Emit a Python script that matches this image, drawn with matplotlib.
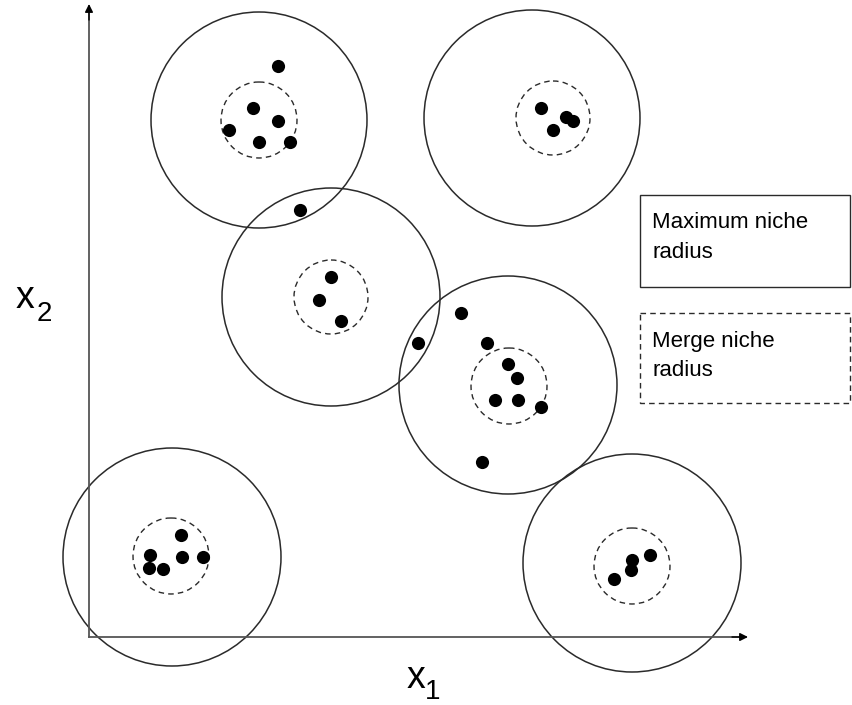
import matplotlib.pyplot as plt
from matplotlib.patches import Circle, Rectangle

plt.rcParams['font.family'] = ['Liberation Sans', 'DejaVu Sans']

# niche centres (outer, solid) and their radii, in picture units
niche_x = [259, 532, 331, 508, 172, 632]
niche_y = [120, 118, 297, 385, 557, 563]
niche_r = [108, 108, 109, 109, 109, 109]

# merge niche centres (inner, dashed)
merge_x = [259, 553, 331, 509, 171, 632]
merge_y = [120, 118, 297, 386, 556, 566]
merge_r = [38, 37, 37, 38, 38, 38]

# individuals
pts_x = [278, 253, 278, 229, 259, 290, 300,
         541, 553, 566, 573,
         331, 319, 341,
         461, 418, 487, 508, 517, 495, 518, 541, 482,
         181, 150, 182, 203, 149, 163,
         650, 632, 631, 614]
pts_y = [66, 108, 121, 130, 142, 142, 210,
         108, 130, 117, 121,
         277, 300, 321,
         313, 343, 343, 364, 378, 400, 400, 407, 462,
         535, 555, 557, 557, 568, 569,
         555, 560, 570, 579]

W, H = 852, 705
fig = plt.figure(figsize=(W / 100, H / 100), dpi=100)
ax = fig.add_axes([0, 0, 1, 1])
ax.set_xlim(0, W)
ax.set_ylim(H, 0)
ax.axis('off')

line_col = '#2a2a2a'
axis_col = '#555555'

# axes: grey lines, black arrow heads
origin = (89, 637)
ax.plot([89, 89], [637, 12], color=axis_col, lw=1.3)
ax.plot([89, 740], [637, 637], color=axis_col, lw=1.3)
ax.annotate('', xy=(89, 4), xytext=(89, 20),
            arrowprops=dict(arrowstyle='-|>', color='black', lw=1.0,
                            mutation_scale=12, shrinkA=0, shrinkB=0))
ax.annotate('', xy=(748, 637), xytext=(732, 637),
            arrowprops=dict(arrowstyle='-|>', color='black', lw=1.0,
                            mutation_scale=12, shrinkA=0, shrinkB=0))

for cx, cy, r in zip(niche_x, niche_y, niche_r):
    ax.add_patch(Circle((cx, cy), r, fill=False, ec=line_col, lw=1.1))
for cx, cy, r in zip(merge_x, merge_y, merge_r):
    ax.add_patch(Circle((cx, cy), r, fill=False, ec=line_col, lw=1.0,
                        ls=(0, (4, 3))))

ax.scatter(pts_x, pts_y, s=90, color='black', zorder=5, linewidths=0)

# legend boxes
ax.add_patch(Rectangle((640, 195), 210, 92, fill=False, ec=line_col, lw=1.0))
ax.add_patch(Rectangle((640, 313), 210, 90, fill=False, ec=line_col, lw=1.0,
                       ls=(0, (4, 3))))
ax.text(652, 223, 'Maximum niche', fontsize=16, va='center', ha='left')
ax.text(652, 253, 'radius', fontsize=16, va='center', ha='left')
ax.text(652, 342, 'Merge niche', fontsize=16, va='center', ha='left')
ax.text(652, 371, 'radius', fontsize=16, va='center', ha='left')

# axis labels
ax.text(25, 298, 'x', fontsize=27, ha='center', va='center')
ax.text(44, 314, '2', fontsize=20, ha='center', va='center')
ax.text(416, 678, 'x', fontsize=27, ha='center', va='center')
ax.text(433, 692, '1', fontsize=20, ha='center', va='center')

fig.savefig('out.png', dpi=100)
